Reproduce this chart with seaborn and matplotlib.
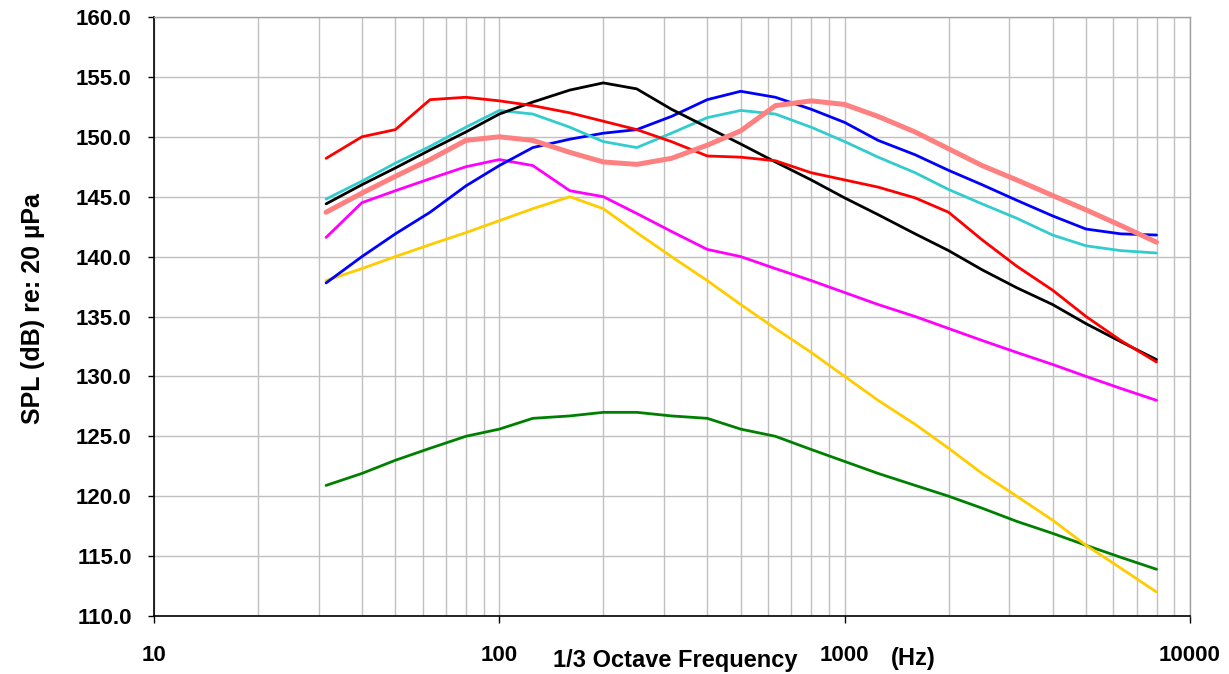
import matplotlib
matplotlib.use("Agg")
import matplotlib.pyplot as plt
import matplotlib.ticker as mticker
import seaborn as sns
import pandas as pd

freqs = [31.5, 40, 50, 63, 80, 100, 125, 160, 200, 250, 315, 400, 500, 630,
         800, 1000, 1250, 1600, 2000, 2500, 3150, 4000, 5000, 6300, 8000]

green = [120.9, 121.9, 123.0, 124.0, 125.0, 125.6, 126.5, 126.7, 127.0, 127.0, 126.7, 126.5, 125.6, 125.0,
         123.9, 122.9, 121.9, 120.9, 120.0, 119.0, 117.9, 116.9, 115.9, 114.9, 113.9]
yellow = [138.0, 139.0, 140.0, 141.0, 142.0, 143.0, 144.0, 145.0, 144.0, 142.0, 140.0, 138.0, 136.0, 134.0,
          132.0, 130.0, 128.0, 126.0, 124.0, 121.9, 120.0, 118.0, 115.9, 114.0, 112.0]
magenta = [141.6, 144.5, 145.5, 146.5, 147.5, 148.1, 147.6, 145.5, 145.0, 143.6, 142.1, 140.6, 140.0, 139.0,
           138.0, 137.0, 136.0, 135.0, 134.0, 133.0, 132.0, 131.0, 130.0, 129.0, 128.0]
blue = [137.8, 140.0, 141.9, 143.7, 145.9, 147.6, 149.1, 149.8, 150.3, 150.6, 151.7, 153.1, 153.8, 153.3,
        152.3, 151.2, 149.7, 148.5, 147.2, 146.0, 144.7, 143.4, 142.3, 141.9, 141.8]
cyan = [144.8, 146.3, 147.8, 149.2, 150.8, 152.2, 151.9, 150.8, 149.6, 149.1, 150.3, 151.6, 152.2, 151.9,
        150.8, 149.6, 148.3, 147.0, 145.6, 144.4, 143.2, 141.8, 140.9, 140.5, 140.3]
black = [144.4, 146.0, 147.4, 148.9, 150.4, 151.9, 152.9, 153.9, 154.5, 154.0, 152.3, 150.8, 149.4, 147.9,
         146.4, 144.9, 143.5, 141.9, 140.5, 138.9, 137.4, 136.0, 134.4, 132.9, 131.4]
red = [148.2, 150.0, 150.6, 153.1, 153.3, 153.0, 152.6, 152.0, 151.3, 150.6, 149.6, 148.4, 148.3, 148.0,
       147.0, 146.4, 145.8, 144.9, 143.7, 141.4, 139.2, 137.2, 135.0, 133.0, 131.2]
salmon = [143.7, 145.3, 146.7, 148.1, 149.7, 150.0, 149.7, 148.7, 147.9, 147.7, 148.2, 149.3, 150.5, 152.6,
          153.0, 152.7, 151.7, 150.4, 149.0, 147.6, 146.4, 145.1, 143.9, 142.6, 141.2]

series_names = ["green", "yellow", "magenta", "blue", "cyan", "black", "red", "salmon"]
series_values = [green, yellow, magenta, blue, cyan, black, red, salmon]
series_colors = ["#008000", "#FFCC00", "#FF00FF", "#0000FF", "#33CCCC", "#000000", "#FF0000", "#FF8080"]
series_widths = [2.0, 2.0, 2.0, 2.0, 2.0, 2.0, 2.0, 3.6]

x_ticks = [10, 100, 1000, 10000]
y_ticks = [110, 115, 120, 125, 130, 135, 140, 145, 150, 155, 160]

sns.set_theme(style="white")
plt.rcParams['font.family'] = ['Liberation Sans', 'DejaVu Sans']
plt.rcParams['text.color'] = 'black'
plt.rcParams['axes.labelcolor'] = 'black'
plt.rcParams['xtick.color'] = 'black'
plt.rcParams['ytick.color'] = 'black'

fig = plt.figure(figsize=(12.29, 6.74), dpi=100)
ax = fig.add_axes([154/1229, 1-616/674, (1190-154)/1229, (616-17)/674])

for name, vals, col, lw in zip(series_names, series_values, series_colors, series_widths):
    df = pd.DataFrame({"f": freqs, "spl": vals})
    sns.lineplot(data=df, x="f", y="spl", ax=ax, color=col, linewidth=lw, zorder=3)

ax.set_xscale("log")
ax.set_xlim(10, 10000)
ax.set_ylim(110, 160)
ax.xaxis.set_major_locator(mticker.FixedLocator(x_ticks))
ax.xaxis.set_minor_locator(mticker.LogLocator(base=10, subs=range(2, 10)))
ax.xaxis.set_major_formatter(mticker.FixedFormatter([str(t) for t in x_ticks]))
ax.xaxis.set_minor_formatter(mticker.NullFormatter())
ax.yaxis.set_major_locator(mticker.FixedLocator(y_ticks))
ax.yaxis.set_major_formatter(mticker.FormatStrFormatter("%.1f"))

ax.grid(True, which="both", axis="x", color="#C0C0C0", linewidth=1.0, zorder=0)
ax.grid(True, which="major", axis="y", color="#C0C0C0", linewidth=1.0, zorder=0)
ax.set_axisbelow(True)

for s in ["left", "bottom"]:
    ax.spines[s].set_color("#000000")
    ax.spines[s].set_linewidth(1.2)
for s in ["top", "right"]:
    ax.spines[s].set_color("#A0A0A0")
    ax.spines[s].set_linewidth(1.0)

ax.tick_params(axis="y", which="major", direction="out", length=4, width=1.0,
               color="#000000", labelcolor="#000000", labelsize=16, pad=12)
ax.tick_params(axis="x", which="major", direction="out", length=5, width=1.0,
               color="#000000", labelcolor="#000000", labelsize=16, pad=16)
ax.tick_params(axis="x", which="minor", length=0)
ax.tick_params(left=True, bottom=True)
for lab in ax.get_xticklabels() + ax.get_yticklabels():
    lab.set_fontweight("bold")

ax.set_xlabel("")
ax.set_ylabel("SPL (dB) re: 20 µPa", fontsize=18, fontweight="bold", va="center", color="black")
ax.yaxis.set_label_coords(-(154-33)/(1190-154), (616-309)/(616-17))

fig.text(675/1229, 1-661/674, "1/3 Octave Frequency", ha="center", va="center",
         fontsize=17, fontweight="bold", color="black")
fig.text(913/1229, 1-659/674, "(Hz)", ha="center", va="center",
         fontsize=17, fontweight="bold", color="black")

fig.savefig("out.png", dpi=100)
